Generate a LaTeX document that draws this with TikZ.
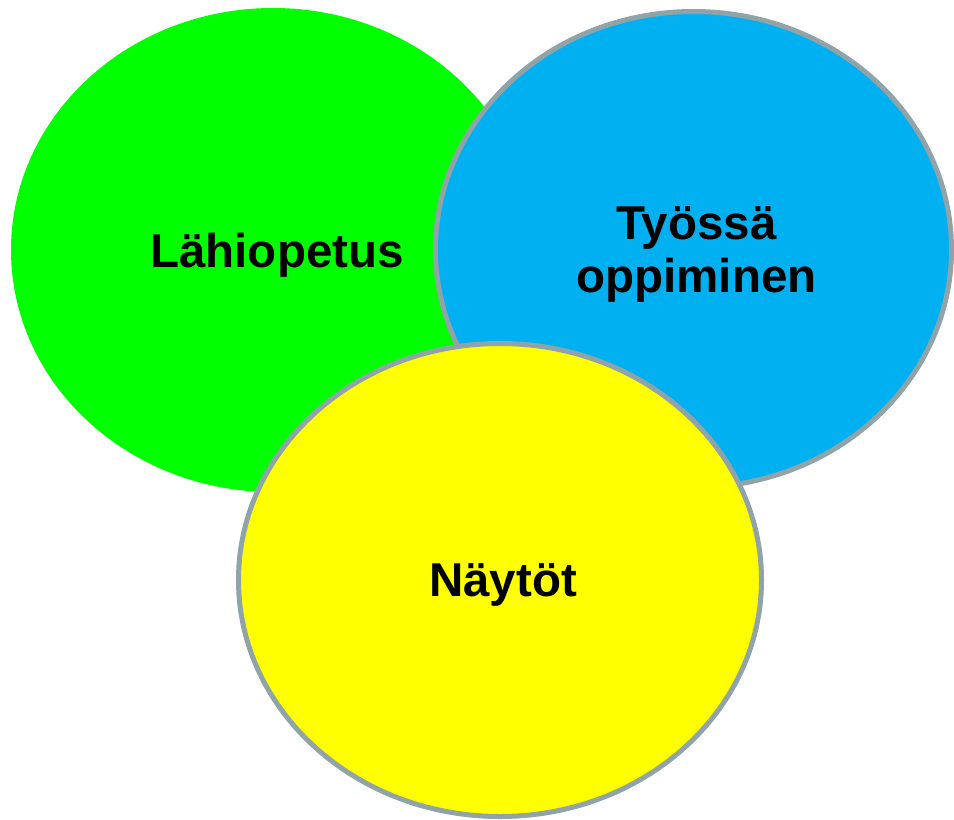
\documentclass[tikz,border=0pt]{standalone}
\usepackage{fontspec}
\setmainfont{Liberation Sans}
\usepackage{tikz}
\usetikzlibrary{shapes.geometric}
\definecolor{lahigreen}{RGB}{0,255,0}
\definecolor{tyoblue}{RGB}{0,176,240}
\definecolor{naytyellow}{RGB}{255,255,0}
\definecolor{rimgray}{RGB}{143,163,168}
\tikzstyle{blob}=[ellipse,inner sep=0pt,outer sep=0pt]
\tikzstyle{rim}=[draw=rimgray,line width=2.5pt]
\tikzstyle{caption}=[font=\bfseries\fontsize{23.75}{26.5}\selectfont,align=center,text depth=0pt]

\begin{document}
\begin{tikzpicture}[x=0.5pt,y=-0.5pt]

    \useasboundingbox (0,0) rectangle (954,820);

    % the three areas, yellow on top
    \node[blob, fill=lahigreen, minimum width=262pt, minimum height=242pt] (lahi) at (273,250) {};
    \node[blob, rim, fill=tyoblue, minimum width=258pt, minimum height=238pt] (tyo) at (693.5,249.5) {};
    \node[blob, rim, fill=naytyellow, minimum width=261.5pt, minimum height=236.5pt] (nayt) at (500,580) {};

    % captions
    \node[caption] (lahitext) at ([xshift=2pt]lahi.center) {Lähiopetus};
    \node[caption] (tyotext) at ([xshift=1.5pt]tyo.center) {Työssä\\oppiminen};
    \node[caption] (nayttext) at ([xshift=1.5pt]nayt.center) {Näytöt};

\end{tikzpicture}
\end{document}
